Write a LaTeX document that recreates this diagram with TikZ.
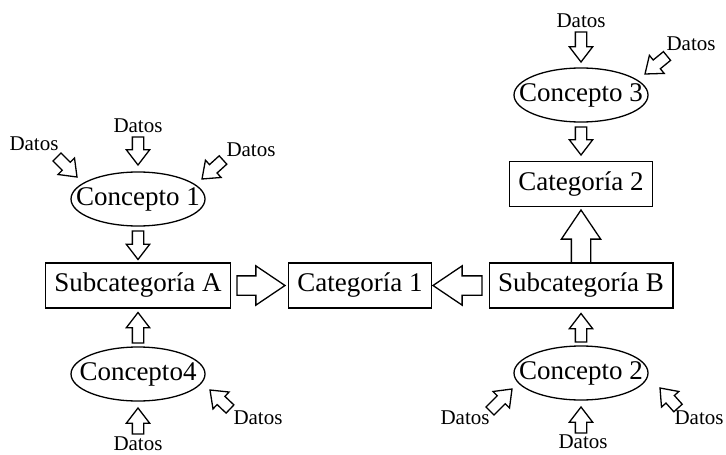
\documentclass[tikz,border=0pt]{standalone}
\usepackage{fontspec}
\setmainfont{Liberation Serif}
\usetikzlibrary{calc,shapes.geometric,shapes.arrows}

% hollow block arrow from one point to another
\newcommand{\blk}[3]{%
  \path let \p1=#2, \p2=#3, \n1={atan2(\y2-\y1,\x2-\x1)}, \n2={veclen(\x2-\x1,\y2-\y1)} in
    node[#1, anchor=tail, rotate=\n1, minimum height=\n2] at (\p1) {};}

\begin{document}
\begin{tikzpicture}[
  x=0.5pt, y=-0.5pt,
  line width=0.65pt,
  box/.style={draw, rectangle, minimum height=22.5pt, inner xsep=4.5pt,
    font=\fontsize{13.5}{16}\selectfont},
  concept/.style={draw, ellipse, minimum width=67pt, minimum height=27pt, inner sep=0pt,
    font=\fontsize{13.5}{16}\selectfont},
  datos/.style={inner sep=1pt, font=\fontsize{10.5}{12}\selectfont},
  small/.style={draw, single arrow, outer sep=0pt, inner xsep=0pt, inner ysep=2.5pt,
    single arrow head extend=3pt, single arrow tip angle=75},
  big/.style={draw, single arrow, outer sep=0pt, inner xsep=0pt, inner ysep=4.5pt,
    single arrow head extend=5pt, single arrow tip angle=68},
  ]
  \useasboundingbox (0,0) rectangle (726,454);

  % middle row
  \node[box] (sa) at (138,285.5) {Subcategoría A};
  \node[box] (c1) at (360,285.5) {Categoría 1};
  \node[box] (sb) at (581,285.5) {Subcategoría B};
  \node[box] (c2) at (581,184) {Categoría 2};

  % concepts
  \node[concept] (e1) at (138,199) {\makebox[0pt]{Concepto 1}};
  \node[concept] (e4) at (138,374) {\makebox[0pt]{Concepto4}};
  \node[concept] (e3) at (581,95) {\makebox[0pt]{Concepto 3}};
  \node[concept] (e2) at (581,373) {\makebox[0pt]{Concepto 2}};

  % data
  \node[datos] (d1t) at (138,126) {Datos};
  \node[datos] (d1l) at (34,144) {Datos};
  \node[datos] (d1r) at (251,150) {Datos};
  \node[datos] (d4b) at (138,444) {Datos};
  \node[datos] (d4r) at (258,418) {Datos};
  \node[datos] (d3t) at (581,21) {Datos};
  \node[datos] (d3r) at (691,44) {Datos};
  \node[datos] (d2l) at (465,418) {Datos};
  \node[datos] (d2b) at (583,442) {Datos};
  \node[datos] (d2r) at (699,418) {Datos};

  % data into concepts
  \blk{small}{($(d1t)+(0,11)$)}{($(e1)+(0,-34)$)}
  \blk{small}{($(d1l)+(23,13)$)}{($(e1)+(-61,-22)$)}
  \blk{small}{($(d1r)+(-28,10)$)}{($(e1)+(64,-20)$)}
  \blk{small}{($(d4b)+(0,-10)$)}{($(e4)+(0,34)$)}
  \blk{small}{($(d4r)+(-28,-9)$)}{($(e4)+(72,16)$)}
  \blk{small}{($(d3t)+(0,11)$)}{($(e3)+(0,-33)$)}
  \blk{small}{($(d3r)+(-24,12)$)}{($(e3)+(64,-21)$)}
  \blk{small}{($(d2l)+(25,-7)$)}{($(e2)+(-69,16)$)}
  \blk{small}{($(d2b)+(-2,-9)$)}{($(e2)+(0,34)$)}
  \blk{small}{($(d2r)+(-21,-10)$)}{($(e2)+(79,15)$)}

  % concepts into boxes
  \blk{small}{($(e1)+(0,32)$)}{($(sa)+(0,-26)$)}
  \blk{small}{($(e4)+(0,-31)$)}{($(sa)+(0,27)$)}
  \blk{small}{($(e3)+(0,32)$)}{($(c2)+(0,-29)$)}
  \blk{small}{($(e2)+(0,-31)$)}{($(sb)+(0,28)$)}

  % boxes into categories
  \blk{big}{($(sa)+(99,0)$)}{($(c1)+(-75,0)$)}
  \blk{big}{($(sb)+(-99,0)$)}{($(c1)+(73,0)$)}
  \blk{big}{($(sb)+(0,-22.5)$)}{($(c2)+(0,26)$)}
\end{tikzpicture}
\end{document}
